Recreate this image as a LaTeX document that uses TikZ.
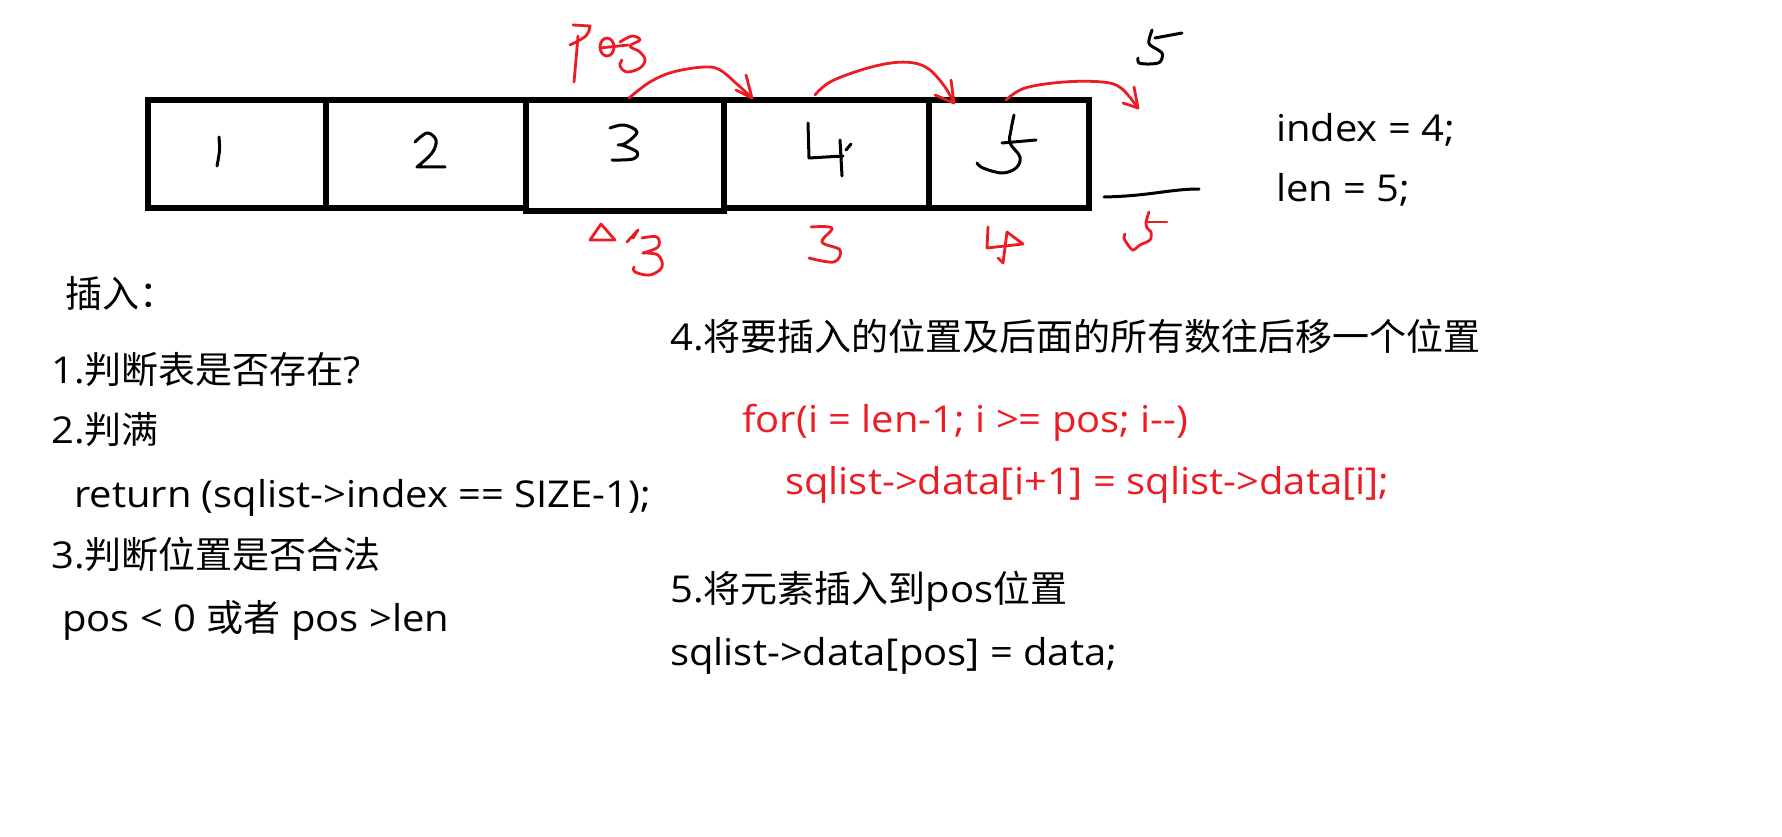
\documentclass[tikz,border=0pt]{standalone}
\usepackage{fontspec}
\setmainfont[FakeStretch=1.08]{Open Sans}
\newfontfamily\cjk[Scale=1.0]{Noto Sans CJK SC}
\usetikzlibrary{calc}
\definecolor{pen}{HTML}{ED1C24}
\begin{document}
\begin{tikzpicture}[x=1pt,y=-1pt,
  cell/.style={draw=black,line width=6pt,minimum width=#1,minimum height=108pt,inner sep=0pt,outer sep=0pt,anchor=north west},
  txt/.style={anchor=base west,inner sep=0pt,font=\fontsize{37}{37}\selectfont},
  code/.style={txt,text=pen},
  hand/.style={draw=black,line width=3pt,line cap=round,line join=round},
  rhand/.style={draw=pen,line width=2.8pt,line cap=round,line join=round}]
\useasboundingbox[fill=white] (0,0) rectangle (1782,837);
% cells
\node[cell=178pt] (c1) at (148,100) {};
\node[cell=200pt] (c2) at (326,100) {};
\node[cell=205pt] (c4) at (724,100) {};
\node[cell=160pt] (c5) at (929,100) {};
\node[cell=198pt,minimum height=111pt] (c3) at (526,100) {};
% handwritten digits
\draw[hand] (219,137) .. controls (220,150) .. (217,166);
\draw[hand] plot[smooth,tension=0.6] coordinates {(415,142)(427,133)(436,140)(432,153)(417,167)} -- (445,167);
\draw[hand] plot[smooth,tension=0.6] coordinates {(610,128)(624,125)(637,132)(626,143)(618,145)};
\draw[hand] plot[smooth,tension=0.6] coordinates {(622,145)(637,152)(633,159)(612,160)};
\draw[hand] (808,123) -- (809,158) -- (843,156);
\draw[hand] (840,140) -- (842,176);
\draw[hand] (851,144) -- (846,150);
\draw[hand] plot[smooth,tension=0.6] coordinates {(1014,115)(1011,130)(1010,143)(1020,157)(1016,168)(1002,173)(983,168)(977,163)};
\draw[hand] (1002,143) -- (1036,140);
% top right 5 and line
\draw[hand] plot[smooth,tension=0.5] coordinates {(1152,30)(1149,40)(1150,45)(1162,53)(1160,62)(1150,64)(1139,63)(1138,58)};
\draw[hand] (1155,38) -- (1182,33);
\coordinate (e1) at (1104,197);
\coordinate (e2) at (1199,189);
\draw[hand] (e1) .. controls (1150,196) and (1170,189) .. (e2);
% red Pos
\draw[rhand] (573,25) -- (590,26) .. controls (588,36) .. (570,45);
\draw[rhand] (578,36) .. controls (576,60) .. (574,82);
\draw[rhand] (607,47) ellipse[x radius=7, y radius=9];
\draw[rhand] (600,48) -- (628,45);
\draw[rhand] plot[smooth,tension=0.6] coordinates {(620,42)(632,36)(640,40)(630,46)(640,52)(645,60)(640,68)(627,72)(620,66)(622,60)};
% red arrows
\coordinate (a1s) at (629,98);
\coordinate (a1e) at (752,98);
\coordinate (a2s) at (815,95);
\coordinate (a2e) at (954,103);
\coordinate (a3s) at (1006,100);
\coordinate (a3e) at (1138,108);
\draw[rhand] plot[smooth,tension=0.6] coordinates {(a1s)(650,82)(673,72)(704,67)(720,70)(738,85)(a1e)};
\draw[rhand] (746,75) -- (a1e) -- (736,90);
\draw[rhand] plot[smooth,tension=0.6] coordinates {(a2s)(830,82)(861,70)(891,63)(914,63)(930,70)(945,87)(a2e)};
\draw[rhand] (951,80) -- (a2e) -- (935,95);
\draw[rhand] plot[smooth,tension=0.6] coordinates {(a3s)(1025,88)(1064,82)(1102,82)(1121,88)(a3e)};
\draw[rhand] (1134,87) -- (a3e) -- (1123,103);
% red digits below
\draw[rhand] (590,240) -- (601,224) -- (615,240) -- cycle;
\draw[rhand] (627,242) -- (638,230) -- (633,238);
\draw[rhand] plot[smooth,tension=0.6] coordinates {(642,238)(657,237)(658,247)(643,253)};
\draw[rhand] plot[smooth,tension=0.6] coordinates {(643,253)(658,255)(662,267)(650,275)(635,272)(634,267)};
\draw[rhand] plot[smooth,tension=0.6] coordinates {(811,227)(832,228)(822,242)(840,250)(834,262)(809,258)};
\draw[rhand] (988,227) -- (987,248) -- (1023,244) -- (1007,232);
\draw[rhand] (1007,232) -- (1003,263) -- (998,258);
\draw[rhand] (1147,222) -- (1167,222);
\draw[rhand] plot[smooth,tension=0.5] coordinates {(1149,212)(1146,222)(1147,228)(1151,232)(1150,240)(1140,245)(1133,250)(1128,245)(1124,238)(1125,234)};
% texts
\node[txt] (idx) at (1276,142) {index = 4;};
\node[txt] (len) at (1276,201) {len = 5;};
\node[txt] (t0) at (65,307) {\cjk 插入：};
\node[txt] (t1) at (51,383) {1.{\cjk 判断表是否存在}?};
\node[txt] (t2) at (51,443) {2.{\cjk 判满}};
\node[txt] (t2b) at (74,507) {return (sqlist->index == SIZE-1);};
\node[txt] (t3) at (51,568) {3.{\cjk 判断位置是否合法}};
\node[txt] (t3b) at (62,631) {pos < 0 {\cjk 或者} pos >len};
\node[txt] (t4) at (670,350) {4.{\cjk 将要插入的位置及后面的所有数往后移一个位置}};
\node[code] (t4a) at (742,432) {for(i = len-1; i >= pos; i-{}-)};
\node[code] (t4b) at (785,494) {sqlist->data[i+1] = sqlist->data[i];};
\node[txt] (t5) at (670,602) {5.{\cjk 将元素插入到}pos{\cjk 位置}};
\node[txt] (t5b) at (670,665) {sqlist->data[pos] = data;};
\end{tikzpicture}
\end{document}
